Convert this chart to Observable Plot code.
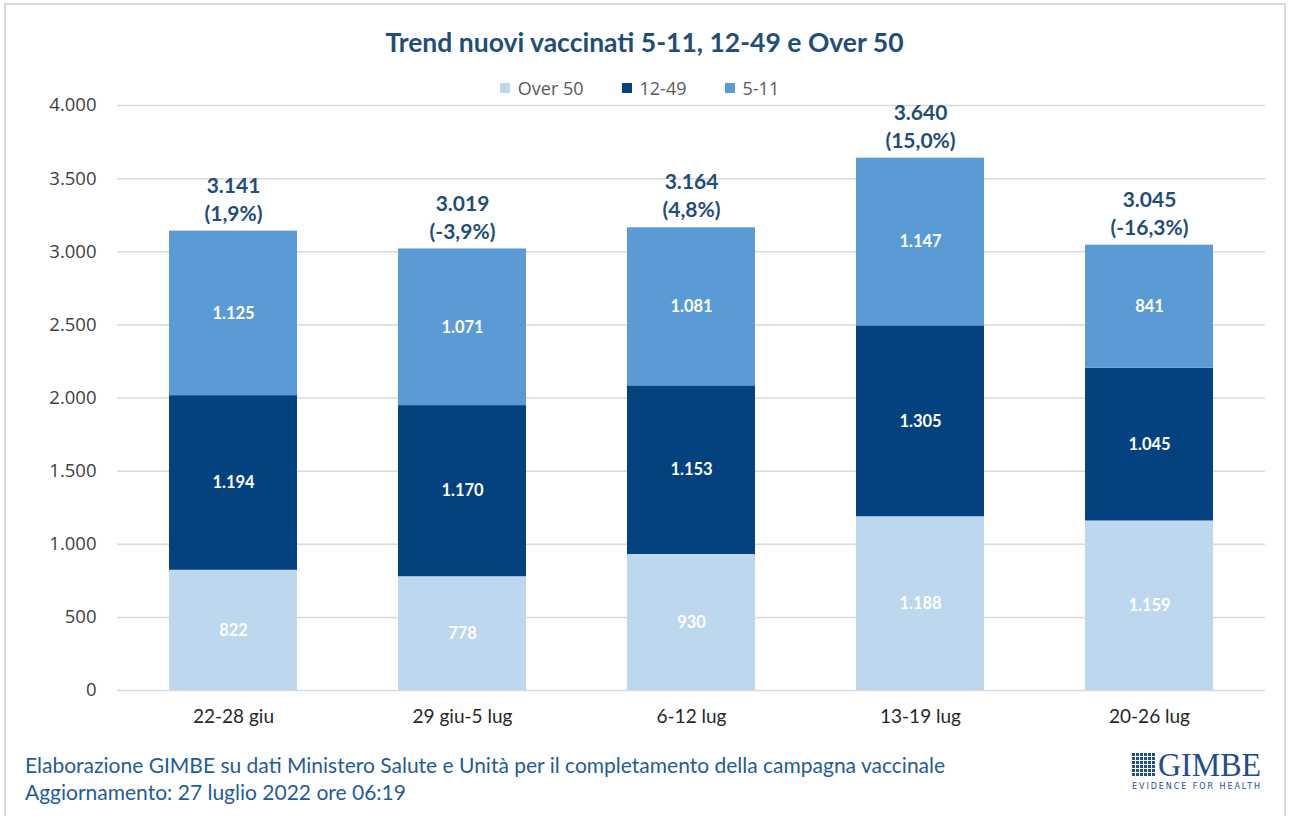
<!DOCTYPE html>
<html>
<head>
<meta charset="utf-8">
<script src="https://cdn.jsdelivr.net/npm/d3@7"></script>
<script src="https://cdn.jsdelivr.net/npm/@observablehq/plot@0.6"></script>
<style>
  html, body { margin: 0; padding: 0; background: #fff; }
  #page { position: relative; width: 1289px; height: 816px; overflow: hidden; background: #fff; }
  #frame { position: absolute; left: 4px; top: 3px; width: 1282px; height: 830px; border: 2px solid #d9d9d9; box-sizing: border-box; }
  #title { position: absolute; left: 0; width: 1289px; top: 26px; text-align: center; font-family: Lato, "Open Sans", sans-serif; font-weight: bold; font-size: 26.5px; color: #1F4E79; }
  #legend { position: absolute; left: 0; width: 1289px; top: 76px; display: flex; justify-content: center; font-family: "Open Sans", sans-serif; font-size: 18px; color: #595959; padding-right: 10px; box-sizing: border-box; }
  #legend span.item { display: inline-flex; align-items: center; margin: 0 19px; }
  #legend span.sw { display: inline-block; width: 10px; height: 10px; margin-right: 8px; }
  #chart { position: absolute; left: 0; top: 80px; }
  #caption { position: absolute; left: 25px; top: 751px; font-family: Lato, "Open Sans", sans-serif; font-size: 21px; line-height: 27px; color: #1F5C99; }
  #logo { position: absolute; left: 1131px; top: 748px; }
</style>
</head>
<body>
<div id="page">
  <div id="frame"></div>
  <div id="title"></div>
  <div id="legend"></div>
  <div id="chart"></div>
  <div id="caption"></div>
  <svg id="logo" width="135" height="45"></svg>
</div>
<script>
// ---- data ----
const weeks = ["22-28 giu", "29 giu-5 lug", "6-12 lug", "13-19 lug", "20-26 lug"];
const seriesNames = ["Over 50", "12-49", "5-11"];
const over50 = [822, 778, 930, 1188, 1159];
const age1249 = [1194, 1170, 1153, 1305, 1045];
const age511 = [1125, 1071, 1081, 1147, 841];
const totals = [3141, 3019, 3164, 3640, 3045];
const pctChange = ["1,9%", "-3,9%", "4,8%", "15,0%", "-16,3%"];
const yTicks = [0, 500, 1000, 1500, 2000, 2500, 3000, 3500, 4000];
const seriesColors = ["#BDD7EE", "#03427E", "#5B9BD5"];
const titleText = "Trend nuovi vaccinati 5-11, 12-49 e Over 50";
const captionLines = [
  "Elaborazione GIMBE su dati Ministero Salute e Unità per il completamento della campagna vaccinale",
  "Aggiornamento: 27 luglio 2022 ore 06:19"
];

// ---- build ----
const it = d3.formatLocale({decimal: ",", thousands: ".", grouping: [3], currency: ["", "€"]});
const fmt = it.format(",d");

const seriesValues = [over50, age1249, age511];
const rows = [];
seriesNames.forEach((s, si) => {
  weeks.forEach((w, wi) => rows.push({week: w, series: s, value: seriesValues[si][wi]}));
});
const totalRows = weeks.map((w, i) => ({week: w, total: totals[i], pct: pctChange[i]}));

document.getElementById("title").textContent = titleText;
const legend = document.getElementById("legend");
seriesNames.forEach((s, i) => {
  const item = document.createElement("span");
  item.className = "item";
  item.innerHTML = `<span class="sw" style="background:${seriesColors[i]}"></span>${s}`;
  legend.appendChild(item);
});
document.getElementById("caption").innerHTML = captionLines.join("<br>");

const labelFont = "Lato, 'Open Sans', sans-serif";
const plot = Plot.plot({
  width: 1289,
  height: 655,
  marginLeft: 117,
  marginRight: 24,
  marginTop: 25,
  marginBottom: 45,
  style: {background: "transparent", overflow: "visible"},
  x: {domain: weeks, paddingInner: 0.44, paddingOuter: 0.22, label: null},
  y: {domain: [0, 4000], label: null},
  color: {domain: seriesNames, range: seriesColors},
  marks: [
    Plot.ruleY(yTicks, {stroke: "#d9d9d9", strokeWidth: 1.5}),
    Plot.barY(rows, {x: "week", y: "value", fill: "series", order: seriesNames}),
    Plot.axisX({tickSize: 0, tickPadding: 19, fontSize: 19, fontFamily: labelFont, fill: "#262626", label: null}),
    Plot.axisY({ticks: yTicks, tickFormat: fmt, tickSize: 0, tickPadding: 21, fontSize: 18.5,
      fontFamily: "'Open Sans', sans-serif", fill: "#404040", label: null}),
    Plot.text(rows, Plot.stackY({x: "week", y: "value", z: "series", order: seriesNames,
      text: d => fmt(d.value), fill: "white", fontWeight: "bold", fontSize: 16.5, fontFamily: labelFont})),
    Plot.text(totalRows, {x: "week", y: "total", text: d => fmt(d.total), dy: -45,
      fill: "#1F4E79", fontWeight: "bold", fontSize: 21, fontFamily: labelFont}),
    Plot.text(totalRows, {x: "week", y: "total", text: d => "(" + d.pct + ")", dy: -17,
      fill: "#1F4E79", fontWeight: "bold", fontSize: 21, fontFamily: labelFont})
  ]
});
document.getElementById("chart").appendChild(plot);

// ---- logo ----
const logo = d3.select("#logo");
const g = logo.append("g").attr("transform", "translate(1,5)");
for (let r = 0; r < 6; r++) for (let c = 0; c < 6; c++) {
  g.append("rect").attr("x", c * 4).attr("y", r * 4).attr("width", 3).attr("height", 3).attr("fill", "#1F4E8C");
}
logo.append("text").attr("x", 27).attr("y", 28).attr("font-family", "'Liberation Serif', 'DejaVu Serif', serif")
  .attr("font-size", 33).attr("fill", "#1F4E8C").attr("textLength", 103).attr("lengthAdjust", "spacingAndGlyphs").text("GIMBE");
logo.append("text").attr("x", 1).attr("y", 41).attr("font-family", "'DejaVu Sans', sans-serif")
  .attr("font-size", 8).attr("fill", "#1F4E8C").attr("textLength", 128).attr("lengthAdjust", "spacing").text("EVIDENCE FOR HEALTH");
</script>
</body>
</html>
